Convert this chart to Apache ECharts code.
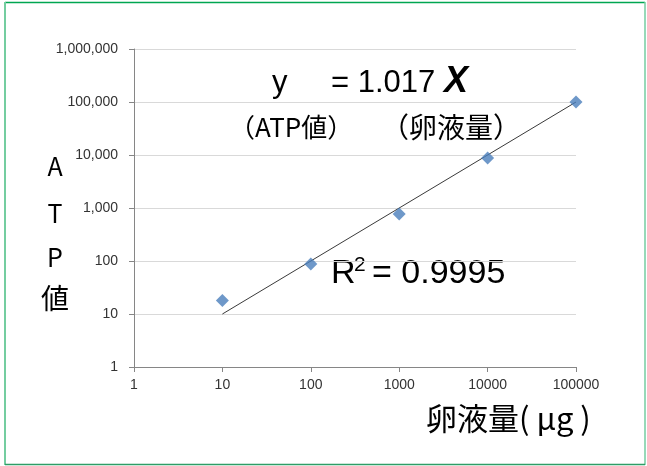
<!DOCTYPE html>
<html>
<head>
<meta charset="utf-8">
<script src="https://cdn.jsdelivr.net/npm/echarts@6/dist/echarts.min.js"></script>
<style>
  html, body { margin: 0; padding: 0; background: #ffffff; }
  #chart { width: 647px; height: 466px; }
</style>
</head>
<body>
<div id="chart"></div>
<script>
// Egg-liquid amount (µg) against measured ATP value, both on log scales
const eggAmount = [10, 100, 1000, 10000, 100000];
const atpValue = [18, 88, 770, 8780, 100000];

// Power trendline end points
const trendX = [10, 100000];
const trendY = [10, 100000];

// Axis ranges
const xRange = [1, 100000];
const yRange = [1, 1000000];

const labelFont = 'Liberation Sans';
const cjkFont = '"Noto Sans CJK JP"';

const chart = echarts.init(document.getElementById('chart'), null, { renderer: 'canvas' });

const points = eggAmount.map((x, i) => [x, atpValue[i]]);
const trend = trendX.map((x, i) => [x, trendY[i]]);

chart.setOption({
  animation: false,
  backgroundColor: '#ffffff',
  grid: { left: 134, right: 71, top: 49, bottom: 99, containLabel: false },
  xAxis: {
    type: 'log',
    logBase: 10,
    min: xRange[0],
    max: xRange[1],
    axisLine: { show: true, lineStyle: { color: '#868686', width: 1 } },
    axisTick: { show: true, length: 5, lineStyle: { color: '#868686' } },
    splitLine: { show: false },
    axisLabel: {
      color: '#333333', fontFamily: labelFont, fontSize: 14, margin: 11,
      formatter: v => String(Math.round(v))
    }
  },
  yAxis: {
    type: 'log',
    logBase: 10,
    min: yRange[0],
    max: yRange[1],
    axisLine: { show: true, lineStyle: { color: '#868686', width: 1 } },
    axisTick: { show: true, length: 5, lineStyle: { color: '#868686' } },
    splitLine: { show: true, lineStyle: { color: '#d9d9d9', width: 1 } },
    axisLabel: {
      color: '#333333', fontFamily: labelFont, fontSize: 14, margin: 16,
      formatter: v => Math.round(v).toLocaleString('en-US')
    }
  },
  series: [
    {
      type: 'line',
      data: trend,
      symbol: 'none',
      lineStyle: { color: '#3a3a3a', width: 1 },
      z: 2
    },
    {
      type: 'scatter',
      data: points,
      symbol: 'diamond',
      symbolSize: 13,
      itemStyle: { color: '#4a7ebb' },
      z: 3
    }
  ],
  graphic: [
    // frame
    { type: 'line', shape: { x1: 5, y1: 2.5, x2: 645, y2: 2.5 }, style: { stroke: '#00a651', lineWidth: 1.5 } },
    { type: 'line', shape: { x1: 5, y1: 2, x2: 5, y2: 465 }, style: { stroke: '#74cda0', lineWidth: 2 } },
    { type: 'line', shape: { x1: 645, y1: 2, x2: 645, y2: 465 }, style: { stroke: '#74cda0', lineWidth: 1.5 } },
    { type: 'line', shape: { x1: 5, y1: 464.5, x2: 645, y2: 464.5 }, style: { stroke: '#2e9d66', lineWidth: 1.5 } },

    // regression formula
    { type: 'text', left: 272, top: 68, style: { text: 'y', font: '31px ' + labelFont, fill: '#000' } },
    { type: 'text', left: 331, top: 68, style: { text: '= 1.017', font: '31px ' + labelFont, fill: '#000' } },
    { type: 'text', left: 444, top: 64, style: { text: 'X', font: 'italic bold 36px ' + labelFont, fill: '#000' } },
    { type: 'text', left: 229, top: 114, style: { text: '（ATP値）', font: '26px ' + cjkFont, fill: '#000' } },
    { type: 'text', left: 381, top: 113, style: { text: '（卵液量）', font: '28px ' + cjkFont, fill: '#000' } },

    // coefficient of determination
    { type: 'text', left: 331, top: 257, style: { text: 'R', font: '34px ' + labelFont, fill: '#000' } },
    { type: 'text', left: 354, top: 255, style: { text: '2', font: '21px ' + labelFont, fill: '#000' } },
    { type: 'text', left: 372, top: 257, style: { text: '= 0.9995', font: '34px ' + labelFont, fill: '#000' } },

    // y-axis title, stacked
    { type: 'text', x: 55, y: 166, style: { text: 'A', font: '25px ' + cjkFont, fill: '#000', align: 'center', verticalAlign: 'middle' } },
    { type: 'text', x: 55, y: 213, style: { text: 'T', font: '25px ' + cjkFont, fill: '#000', align: 'center', verticalAlign: 'middle' } },
    { type: 'text', x: 55, y: 257, style: { text: 'P', font: '25px ' + cjkFont, fill: '#000', align: 'center', verticalAlign: 'middle' } },
    { type: 'text', x: 55, y: 298, style: { text: '値', font: '28px ' + cjkFont, fill: '#000', align: 'center', verticalAlign: 'middle' } },

    // x-axis title
    { type: 'text', left: 426, top: 403, style: { text: '卵液量( μg )', font: '31px ' + cjkFont, fill: '#000' } }
  ]
});
</script>
</body>
</html>
